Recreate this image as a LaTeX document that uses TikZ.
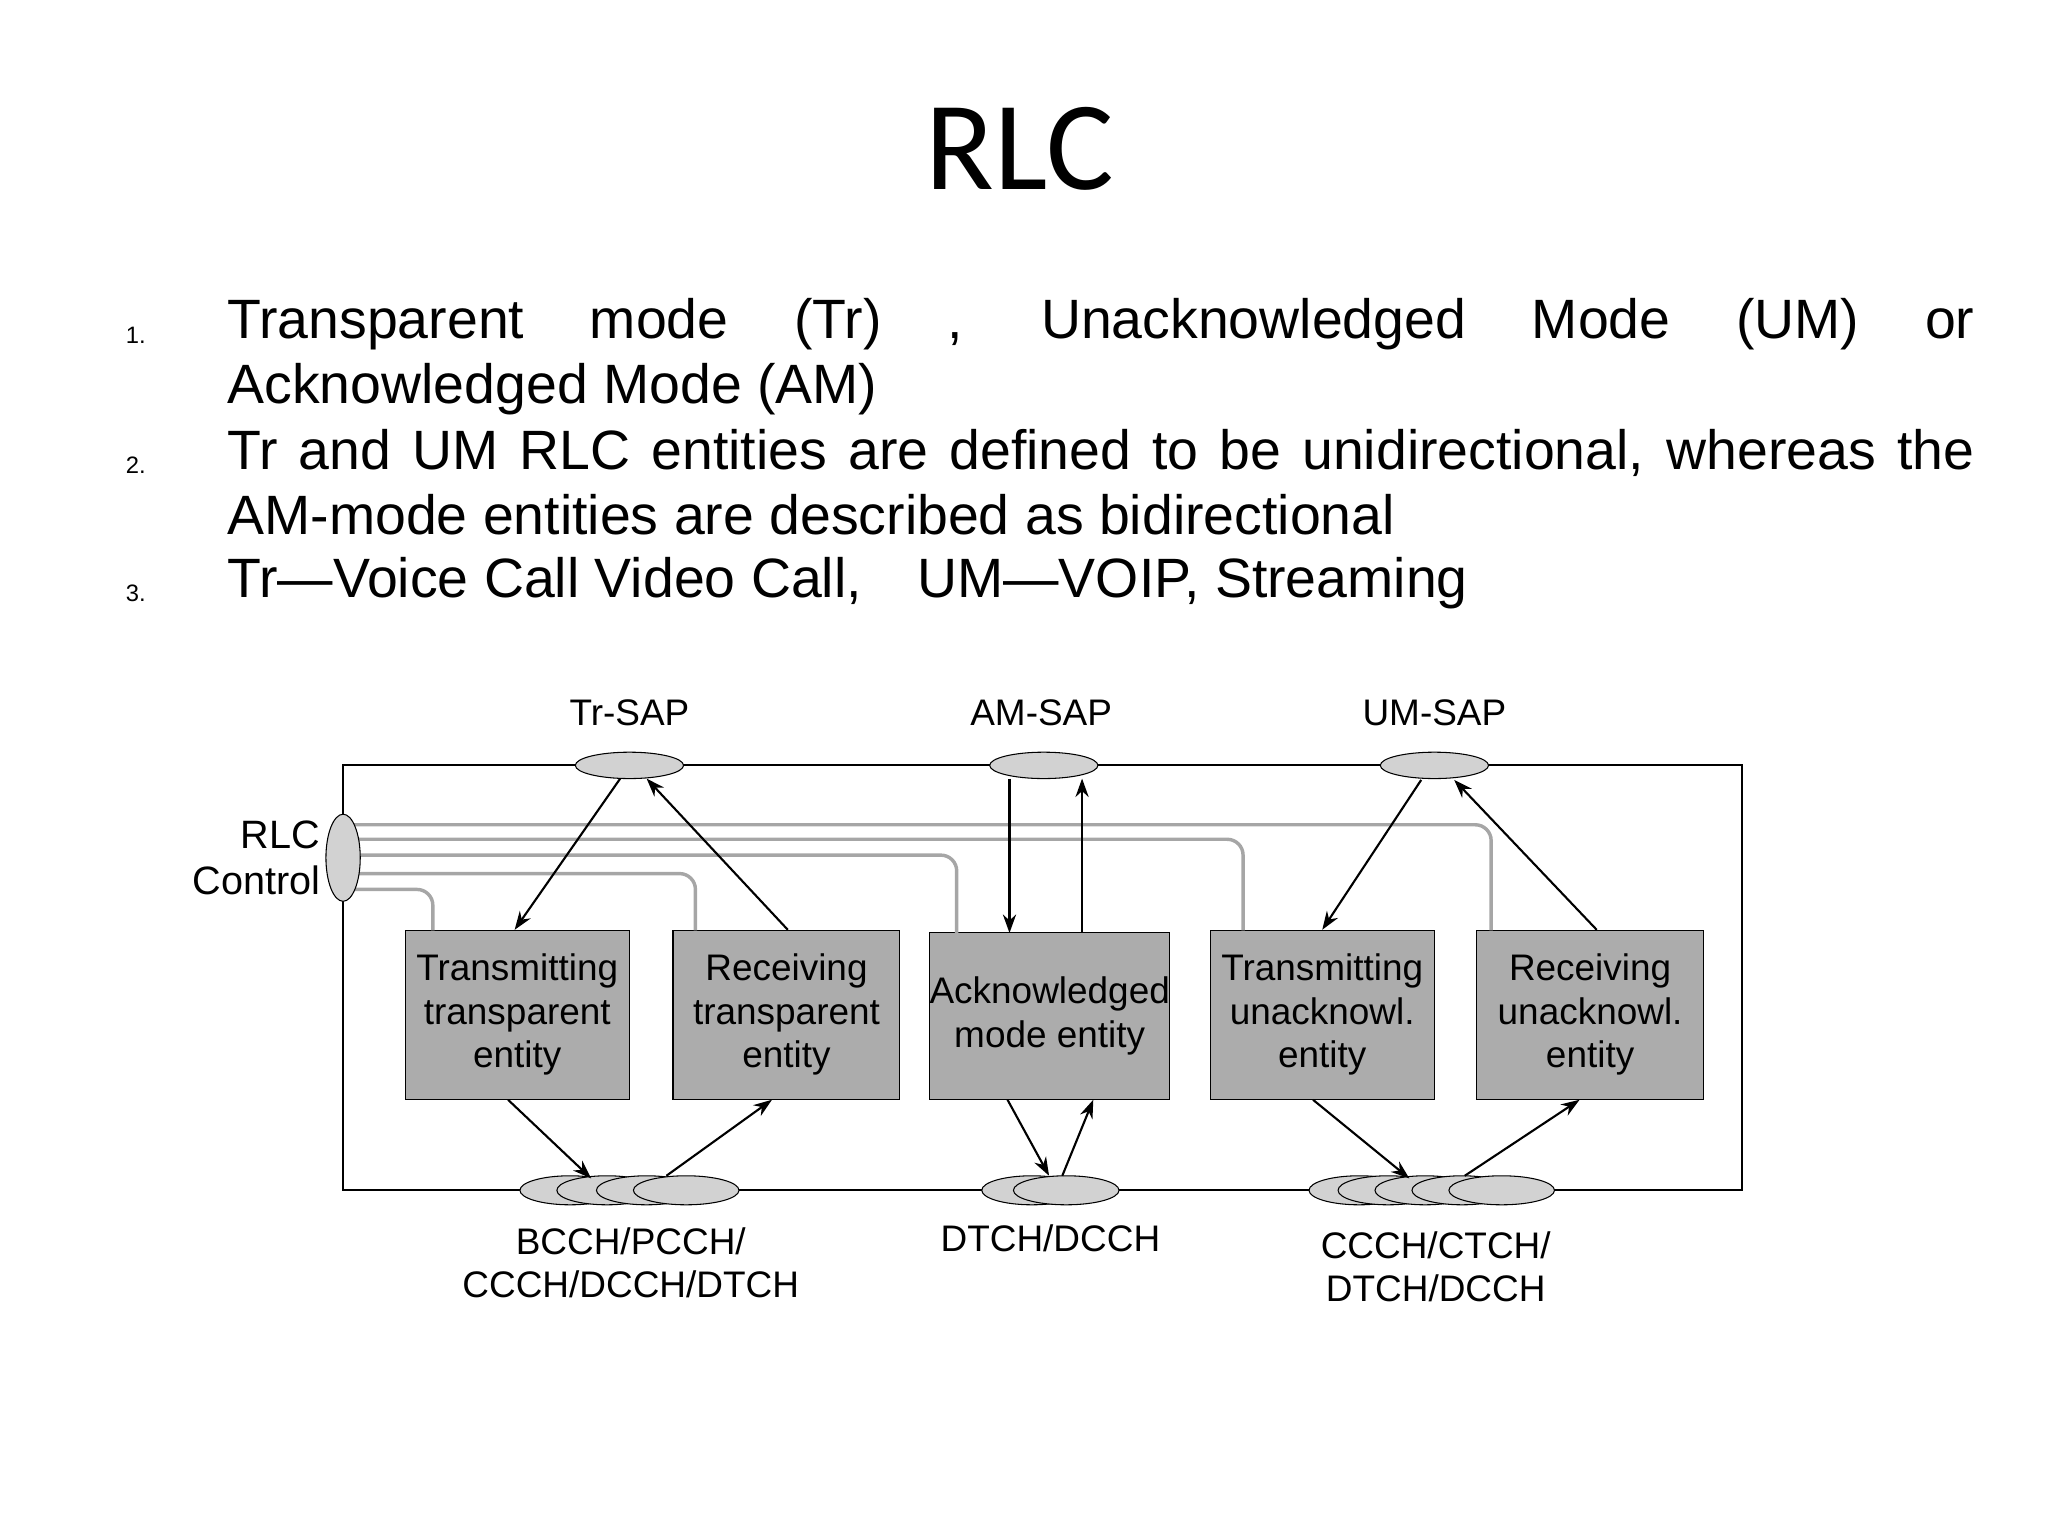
\documentclass[tikz,border=0pt]{standalone}
\usepackage{fontspec}
\setmainfont{Liberation Sans}
\newfontfamily\titlefont{Carlito}
\usetikzlibrary{arrows.meta,calc,shapes.geometric}
\begin{document}
\begin{tikzpicture}[x=0.5pt,y=-0.5pt,
  box/.style={draw,fill=gray!65,minimum width=#1*0.5pt,minimum height=128*0.5pt,inner sep=0pt,align=center,font=\fontsize{14}{16.5}\selectfont},
  sap/.style={draw,fill=gray!35,ellipse,minimum width=82*0.5pt,minimum height=20*0.5pt,inner sep=0pt},
  ch/.style={draw,fill=gray!35,ellipse,minimum width=76*0.5pt,minimum height=22*0.5pt,inner sep=0pt},
  lab/.style={font=\fontsize{14}{16.5}\selectfont,align=center,inner sep=0pt},
  ctl/.style={gray!70,line width=1.3pt,rounded corners=6pt},
  arr/.style={-{Stealth[length=7pt,width=5pt]},line width=0.8pt},
  txt/.style={font=\fontsize{21}{24.5}\selectfont,anchor=north west,inner sep=0pt,text width=662pt,align=justify},
  num/.style={font=\fontsize{9}{10}\selectfont,anchor=base west,inner sep=0pt}]
\useasboundingbox (0,0) rectangle (1552,1164);
\node[font=\titlefont\fontsize{48}{50}\selectfont] (title) at (773,113) {RLC};
\node[num] (n1) at (95,260) {1.};
\node[num] (n2) at (95,359) {2.};
\node[num] (n3) at (95,456) {3.};
\node[txt] (t1) at (172,226) {Transparent mode (Tr) , Unacknowledged Mode (UM) or\linebreak Acknowledged Mode (AM)};
\node[txt] (t2) at (172,325) {Tr and UM RLC entities are defined to be unidirectional, whereas the AM-mode entities are described as bidirectional};
\node[txt] (t3) at (172,422) {Tr---Voice Call Video Call,\quad UM---VOIP, Streaming};
% frame
\draw[line width=0.8pt] (260,580) rectangle (1320,902);
% boxes
\node[box=170] (tt) at (392,769) {Transmitting\\transparent\\entity};
\node[box=172] (rt) at (596,769) {Receiving\\transparent\\entity};
\node[box=181,minimum height=126*0.5pt] (am) at (795.5,770) {Acknowledged\\mode entity};
\node[box=170] (tu) at (1002,769) {Transmitting\\unacknowl.\\entity};
\node[box=172] (ru) at (1205,769) {Receiving\\unacknowl.\\entity};
% control lines
\coordinate (c1) at (268,625); \coordinate (c2) at (270,636);
\coordinate (c3) at (272,648); \coordinate (c4) at (270,662); \coordinate (c5) at (268,674);
\draw[ctl] (c1) -- (1130,625) -- (1130,705);
\draw[ctl] (c2) -- (942,636) -- (942,705);
\draw[ctl] (c3) -- (725,648) -- (725,707);
\draw[ctl] (c4) -- (527,662) -- (527,705);
\draw[ctl] (c5) -- (328,674) -- (328,705);
\node[draw,fill=gray!35,ellipse,minimum width=26*0.5pt,minimum height=66*0.5pt,inner sep=0pt] (ctrl) at (260,650) {};
\node[lab,align=right,anchor=east,font=\fontsize{15}{17.5}\selectfont] (ctrll) at (243,650) {RLC\\Control};
% SAPs
\node[sap] (trsap) at (477,580) {};
\node[sap] (amsap) at (791,580) {};
\node[sap] (umsap) at (1087,580) {};
\node[lab] (trl) at (477,540) {Tr-SAP};
\node[lab] (aml) at (789,540) {AM-SAP};
\node[lab] (uml) at (1087,540) {UM-SAP};
% channel ellipses
\node[ch] (b1) at (432,902) {}; \node[ch] (b2) at (460,902) {};
\node[ch] (b3) at (490,902) {}; \node[ch,minimum width=80*0.5pt] (b4) at (520,902) {};
\node[ch] (d1) at (782,902) {}; \node[ch,minimum width=80*0.5pt] (d2) at (808,902) {};
\node[ch] (u1) at (1030,902) {}; \node[ch] (u2) at (1052,902) {};
\node[ch] (u3) at (1080,902) {}; \node[ch] (u4) at (1108,902) {};
\node[ch,minimum width=80*0.5pt] (u5) at (1138,902) {};
\node[lab] (bl) at (478,957) {BCCH/PCCH/\\CCCH/DCCH/DTCH};
\node[lab] (dl) at (796,938) {DTCH/DCCH};
\node[lab] (ul) at (1088,960) {CCCH/CTCH/\\DTCH/DCCH};
% arrows
\draw[arr] (470,590) -- ($(tt.north)+(-2,0)$);
\draw[arr] ($(rt.north)+(1,0)$) -- (490,590);
\draw[arr] (765,590) -- (765,707);
\draw[arr] (820,707) -- (820,590);
\draw[arr] (1077,591) -- ($(tu.north)+(0,0)$);
\draw[arr] ($(ru.north)+(5,0)$) -- (1102,591);
\draw[arr] ($(tt.south)+(-7,0)$) -- (448,893);
\draw[arr] (505,891) -- ($(rt.south)+(-11,0)$);
\draw[arr] ($(am.south)+(-32,0)$) -- (795,891);
\draw[arr] (805,891) -- ($(am.south)+(33,0)$);
\draw[arr] ($(tu.south)+(-7,0)$) -- (1068,893);
\draw[arr] (1110,891) -- ($(ru.south)+(-8,0)$);
\end{tikzpicture}
\end{document}
